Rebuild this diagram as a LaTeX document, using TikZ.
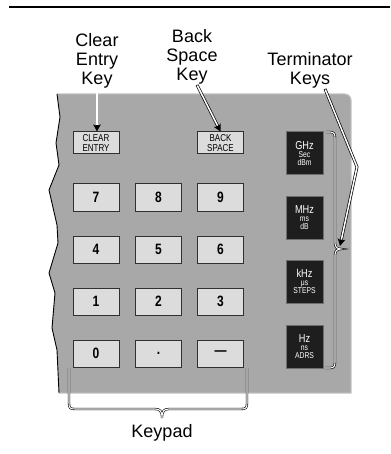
\documentclass[tikz,border=0pt]{standalone}
\usepackage{fontspec}
\setmainfont{Liberation Sans}
\newfontfamily\condfont{Liberation Sans}[FakeStretch=0.8]
\usetikzlibrary{arrows.meta,calc}
\definecolor{panelgray}{HTML}{A8A8A8}
\definecolor{paneledge}{HTML}{C6C6C6}
\definecolor{keyfill}{HTML}{DCDCDC}
\definecolor{keyedge}{HTML}{303030}
\definecolor{termfill}{HTML}{1E1E1E}
\definecolor{termedge}{HTML}{6E6E6E}
\newcommand\tkbig{\condfont\fontsize{11.5}{8}\selectfont}
\newcommand\tksmall{\condfont\fontsize{8.5}{8}\selectfont}
\begin{document}
\begin{tikzpicture}[x=1pt,y=-1pt,
  lbl/.style={font=\fontsize{18}{19}\selectfont, align=center, anchor=base, inner sep=0pt},
  numkey/.style={draw=keyedge, fill=keyfill, line width=1pt, minimum width=46pt,
    minimum height=27pt, inner sep=0pt, font=\condfont\bfseries\fontsize{15}{15}\selectfont},
  smallkey/.style={numkey, minimum height=22pt, align=center,
    font=\condfont\fontsize{10}{10.5}\selectfont},
  termkey/.style={draw=termedge, fill=termfill, line width=1pt, minimum width=37pt,
    minimum height=43pt, inner sep=0pt, text=white, align=center, font=\tkbig},
  arrouter/.style={draw=black, line width=2.9pt, line join=miter,
    -{Stealth[length=7pt,width=7.5pt,inset=1.5pt]}},
  arrinner/.style={draw=white, line width=1.5pt, line join=miter, shorten >=6.5pt},
  dblthin/.style={draw=black, line width=0.6pt, double=white, double distance=1.1pt}
]
\useasboundingbox (0,0) rectangle (390,454);

% top rule
\draw[line width=2pt] (9,7) -- (390,7);

% panel
\fill[panelgray] (57,94) -- (60,117) -- (56,143) -- (59,165) -- (49,190) -- (57,225)
  -- (58,243) -- (49,273) -- (55,293) -- (52,328) -- (57,350) -- (59,393)
  -- (351,393) -- (351,100) arc[start angle=0,end angle=-90,radius=6] -- cycle;
\draw[paneledge, line width=1pt] (59,393) -- (351,393) -- (351,100)
  arc[start angle=0,end angle=-90,radius=6] -- (57,94);
\draw[black, line width=0.9pt, line join=miter] (57,94) -- (60,117) -- (56,143) -- (59,165)
  -- (49,190) -- (57,225) -- (58,243) -- (49,273) -- (55,293) -- (52,328) -- (57,350) -- (59,393);

% keys
\node[smallkey] (clear) at (96,143) {CLEAR\\ENTRY};
\node[smallkey] (back) at (220.5,143) {BACK\\SPACE};
\node[numkey] (k7) at (96,197.5) {7};
\node[numkey] (k8) at (158.5,197.5) {8};
\node[numkey] (k9) at (220.5,197.5) {9};
\node[numkey] (k4) at (96,249.5) {4};
\node[numkey] (k5) at (158.5,249.5) {5};
\node[numkey] (k6) at (220.5,249.5) {6};
\node[numkey] (k1) at (96,301.5) {1};
\node[numkey] (k2) at (158.5,301.5) {2};
\node[numkey] (k3) at (220.5,301.5) {3};
\node[numkey] (k0) at (96,353.5) {0};
\node[numkey] (kdot) at (158.5,353.5) {.};
\node[numkey] (kdash) at (220.5,353.5) {—};

\node[termkey] (ghz) at (304.5,153.5) {GHz\\\tksmall Sec\\\tksmall dBm};
\node[termkey] (mhz) at (304.5,217.5) {MHz\\\tksmall ms\\\tksmall dB};
\node[termkey] (khz) at (304.5,281.5) {kHz\\\tksmall μs\\\tksmall STEPS};
\node[termkey] (hz) at (304.5,346.5) {Hz\\\tksmall ns\\\tksmall ADRS};

% labels (base = baseline of last line)
\node[lbl] (cek) at (97,85) {Clear\\Entry\\Key};
\node[lbl] (bsk) at (192,81) {Back\\Space\\Key};
\node[lbl] (tk) at (310,85) {Terminator\\Keys};
\node[lbl] (kp) at (162,437) {Keypad};

% braces
\draw[dblthin] (69,368) -- (69,403) .. controls (69,408) and (70,409) .. (75,409)
  -- (155,409) .. controls (160,409) and (162,411) .. (162,418)
  .. controls (162,411) and (164,409) .. (169,409) -- (241,409)
  .. controls (246,409) and (247,408) .. (247,403) -- (247,368);
\draw[dblthin] (326,132) -- (330,132) .. controls (334,132) and (335,134) .. (335,138)
  -- (335,243) .. controls (335,247) and (337,249) .. (341,249)
  .. controls (337,249) and (335,251) .. (335,255) -- (335,362)
  .. controls (335,366) and (334,368) .. (330,368) -- (325,368);

% connectors (double lines: black outer with arrow tip, white core)
\coordinate (tbend) at (357,167);
\coordinate (ttip) at (340,246);
\coordinate (cekend) at (cek.south |- clear.north);
\coordinate (bskstart) at ([xshift=5pt]bsk.south);
\coordinate (tkstart) at ([xshift=15pt]tk.south);
\draw[arrouter] (cek.south) -- (cekend);
\draw[arrinner] ([yshift=0.7pt]cek.south) -- (cekend);
\draw[arrouter] (bskstart) -- (back.north);
\draw[arrinner, shorten <=0.7pt] (bskstart) -- (back.north);
\draw[arrouter] (tkstart) -- (tbend) -- (ttip);
\draw[arrinner, shorten <=0.7pt] (tkstart) -- (tbend) -- (ttip);
\end{tikzpicture}
\end{document}
